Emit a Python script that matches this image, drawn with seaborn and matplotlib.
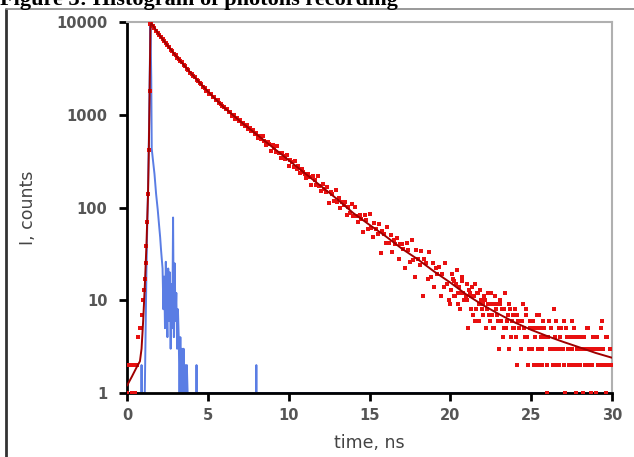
import numpy as np
import pandas as pd
import matplotlib
matplotlib.use("Agg")
import matplotlib.pyplot as plt
import seaborn as sns
from matplotlib.lines import Line2D

# ---------------- data ----------------
# rising edge of the photon histogram
t_rise = [0.0, 0.1, 0.2, 0.3, 0.4, 0.5, 0.6, 0.7, 0.8, 0.9, 1.0, 1.05, 1.1,
          1.15, 1.2, 1.25, 1.3, 1.35, 1.4, 1.45]
c_rise = [1, 2, 2, 1, 2, 1, 2, 4, 5, 7, 10, 13, 17, 25, 38, 70, 140, 420, 1800, 9600]

# decay part, 0.1 ns bins from 1.5 ns to 29.9 ns
t_decay = np.round(np.arange(1.5, 29.95, 0.1), 1)
c_decay = [
    9770, 9160, 8700, 8090, 7680,
    7270, 6830, 6590, 6180, 5950, 5580, 5390, 5040, 4870, 4550,
    4400, 4130, 4010, 3760, 3660, 3430, 3340, 3130, 3050, 2850,
    2780, 2600, 2550, 2380, 2340, 2180, 2140, 1990, 1960, 1820,
    1800, 1690, 1670, 1560, 1540, 1440, 1430, 1330, 1320, 1230,
    1220, 1140, 1140, 1060, 1060, 980, 990, 910, 920, 860,
    870, 800, 820, 750, 770, 700, 720, 660, 680, 620,
    643, 559, 588, 545, 590, 519, 476, 511, 479, 410,
    476, 443, 401, 457, 385, 346, 391, 356, 335, 365,
    278, 324, 307, 274, 319, 262, 282, 234, 257, 240,
    230, 208, 231, 215, 176, 220, 200, 174, 218, 169,
    149, 179, 159, 148, 168, 111, 148, 139, 117, 153,
    115, 128, 100, 115, 106, 115, 84, 101, 87, 110,
    81, 102, 80, 69, 84, 76, 55, 84, 73, 58,
    85, 60, 48, 68, 58, 52, 66, 32, 56, 52,
    41, 61, 41, 51, 33, 45, 40, 47, 28, 40,
    40, 36, 22, 41, 35, 26, 45, 27, 18, 35,
    28, 24, 34, 11, 28, 25, 17, 33, 18, 25,
    14, 22, 19, 23, 11, 19, 14, 25, 15, 10,
    9, 19, 16, 11, 21, 12, 8, 16, 12, 10,
    15, 5, 12, 11, 7, 15, 8, 12, 6, 10,
    9, 11, 5, 9, 7, 12, 7, 5, 9, 7,
    3, 10, 8, 5, 12, 6, 3, 8, 6, 5,
    8, 2, 6, 6, 3, 9, 4, 7, 2, 5,
    5, 6, 2, 5, 3, 7, 4, 2, 5, 4,
    1, 6, 5, 3, 8, 3, 2, 5, 4, 3,
    6, 1, 4, 4, 2, 6, 2, 4, 1, 3,
    3, 4, 1, 3, 2, 5, 3, 1, 4, 3,
    1, 4, 3, 2, 6, 2, 1, 4, 2, 2,
]

# tail, intermediate bins (20.05 ns ... 29.95 ns)
t_tail = np.round(np.arange(20.05, 29.99, 0.1), 2)
c_tail = [
    13, 17, 11, 15, 9, 14, 12, 18, 10, 11,
    10, 13, 8, 14, 11, 6, 12, 9, 13, 8,
    7, 10, 8, 12, 6, 9, 5, 11, 8, 6,
    9, 6, 4, 8, 5, 7, 9, 4, 7, 5,
    4, 7, 5, 3, 6, 5, 8, 4, 3, 6,
    3, 5, 4, 7, 2, 5, 3, 6, 4, 2,
    4, 3, 5, 2, 4, 6, 3, 2, 5, 3,
    2, 5, 3, 2, 4, 3, 5, 2, 3, 4,
    2, 3, 4, 2, 5, 2, 3, 2, 4, 3,
    3, 2, 2, 5, 3, 2, 4, 2, 3, 2,
]

# fitted decay curve
t_fit = [0, 0.3, 0.6, 0.8, 0.9, 1.0, 1.1, 1.2, 1.3, 1.35, 1.4, 1.45, 1.5,
         2, 3, 4, 5, 6, 7, 8, 9, 10, 11, 12, 13, 14, 15, 16, 17, 18, 19, 20,
         21, 22, 23, 24, 25, 26, 27, 28, 29, 30]
c_fit = [1.2, 1.5, 1.9, 2.2, 3.0, 6, 14, 38, 135, 420, 1800, 8800, 9700,
         7240, 4370, 2750, 1780, 1200, 850, 617, 447, 324, 234, 170, 123, 87,
         65, 49, 36, 27.5, 20.4, 15.5, 11.5, 8.9, 7.1, 5.75, 4.8, 4.1, 3.55,
         3.1, 2.7, 2.4]

# instrument response function (blue)
t_irf = [0.0, 0.88, 0.9, 0.92, 1.0, 1.1, 1.2, 1.25, 1.3, 1.35, 1.4, 1.45, 1.5,
         1.53, 1.6, 1.7, 1.8, 1.9, 2.0, 2.05, 2.1, 2.15, 2.2, 2.25, 2.3, 2.35,
         2.4, 2.45, 2.5, 2.55, 2.6, 2.65, 2.7, 2.75, 2.8, 2.85, 2.9, 2.95, 3.0,
         3.05, 3.1, 3.15, 3.2, 3.25, 3.3, 3.35, 3.4, 3.45, 3.5, 3.55, 3.6,
         3.65, 3.7, 3.75, 3.8, 4.28, 4.3, 4.32, 7.98, 8.0, 8.02, 30.0]
c_irf = [1, 1, 2, 1, 1, 1, 20, 60, 160, 500, 2400, 9800, 2500, 430, 330, 230,
         140, 95, 60, 48, 36, 28, 22, 8, 18, 5, 26, 9, 4, 22, 6, 20, 3, 15, 5,
         78, 4, 25, 6, 12, 3, 8, 4, 1, 4, 1, 3, 1, 3, 1, 2, 1, 2, 1, 1, 1, 2,
         1, 1, 2, 1, 1]

x_ticks = [0, 5, 10, 15, 20, 25, 30]
y_ticks = [1, 10, 100, 1000, 10000]
y_tick_labels = ["1", "10", "100", "1000", "10000"]
title = "Figure 3: Histogram of photons recording"
x_label = "time, ns"
y_label = "I, counts"

# ---------------- figure ----------------
sns.set_theme(style="ticks")
plt.rcParams["font.family"] = ["DejaVu Sans"]

W, H = 634, 457
fig = plt.figure(figsize=(W / 100, H / 100), dpi=100)
fig.patch.set_facecolor("white")

ax = fig.add_axes([127 / W, 1 - 393 / H, (612 - 127) / W, (393 - 22) / H])
ax.set_facecolor("white")

pts = pd.DataFrame({
    "t": list(t_rise) + list(t_decay) + list(t_tail),
    "c": list(c_rise) + list(c_decay) + list(c_tail),
})
irf = pd.DataFrame({"t": t_irf, "c": c_irf})
fit = pd.DataFrame({"t": t_fit, "c": c_fit})

sns.lineplot(data=irf, x="t", y="c", ax=ax, sort=False, estimator=None,
             color="#3d66e0", lw=1.4, alpha=0.85, zorder=2)
sns.scatterplot(data=pts, x="t", y="c", ax=ax, marker="s", s=8,
                color="#e81010", linewidth=0, zorder=3)
sns.lineplot(data=fit, x="t", y="c", ax=ax, sort=False, estimator=None,
             color="#a00000", lw=1.4, zorder=4)

ax.set_yscale("log")
ax.set_xlim(0, 30)
ax.set_ylim(1, 10000)
ax.set_xticks(x_ticks)
ax.set_xticklabels([str(v) for v in x_ticks])
ax.set_yticks(y_ticks)
ax.set_yticklabels(y_tick_labels)
ax.minorticks_off()

for side in ["left", "bottom"]:
    ax.spines[side].set_color("black")
    ax.spines[side].set_linewidth(2)
for side in ["top", "right"]:
    ax.spines[side].set_visible(True)
    ax.spines[side].set_color("#b0b0b0")
    ax.spines[side].set_linewidth(1.5)

ax.tick_params(axis="both", which="major", direction="out", length=6,
               width=2, color="black", labelcolor="#555555",
               labelsize=10.5, pad=5)
ax.tick_params(axis="y", pad=8)
for lab in ax.get_xticklabels() + ax.get_yticklabels():
    lab.set_fontweight("bold")

ax.set_xlabel(x_label, fontsize=12.5, color="#444444", labelpad=8)
ax.set_ylabel(y_label, fontsize=12.5, color="#444444", labelpad=14)

# outer frame of the figure image
fig.add_artist(Line2D([6 / W, 6 / W], [0, 1 - 9 / H], transform=fig.transFigure,
                      color="#333333", lw=2))
fig.add_artist(Line2D([6 / W, 1], [1 - 9 / H, 1 - 9 / H], transform=fig.transFigure,
                      color="#888888", lw=1.2))

# title (cut off at the top like in the reference)
fig.text(0.0, 1 - 5 / H, title, family="Liberation Serif", fontweight="bold",
         fontsize=16, ha="left", va="baseline", color="black")

fig.savefig("out.png", dpi=100, facecolor="white")
